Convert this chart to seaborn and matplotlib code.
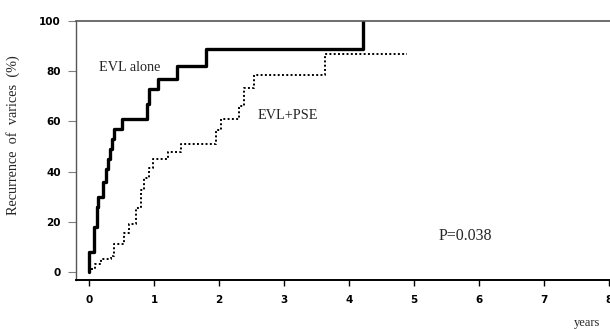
import matplotlib
matplotlib.use("Agg")
import matplotlib.pyplot as plt
import pandas as pd
import seaborn as sns

# Cumulative recurrence of varices (%), step curves
evl_years = [0.0, 0.0, 0.07, 0.12, 0.13, 0.14, 0.21, 0.26, 0.29, 0.32, 0.36,
             0.39, 0.51, 0.89, 0.93, 1.06, 1.35, 1.80, 4.22]
evl_pct = [0, 8, 18, 22, 26, 30, 36, 41, 45, 49, 53,
           57, 61, 67, 73, 77, 82, 89, 100]

pse_years = [0.03, 0.10, 0.18, 0.34, 0.38, 0.54, 0.62, 0.72, 0.80, 0.85, 0.93,
             0.98, 1.21, 1.41, 1.95, 2.03, 2.31, 2.39, 2.54, 3.63, 4.90]
pse_pct = [1, 3, 5, 6.5, 11, 15.5, 19, 25.5, 32.5, 37.5, 41.5,
           45, 48, 51, 56.5, 61, 66, 73.5, 78.5, 87, 87]

x_ticks = [0, 1, 2, 3, 4, 5, 6, 7, 8]
y_ticks = [0, 20, 40, 60, 80, 100]

evl = pd.DataFrame({"years": evl_years, "pct": evl_pct})
pse = pd.DataFrame({"years": pse_years, "pct": pse_pct})

sns.set_style("ticks")
plt.rcParams["font.family"] = ["Liberation Serif", "DejaVu Serif"]

fig = plt.figure(figsize=(6.1, 3.29), dpi=100)
ax = fig.add_axes([0.1246, 0.149, 0.8754, 0.787])

sns.lineplot(data=evl, x="years", y="pct", ax=ax, color="black", lw=2.4,
             drawstyle="steps-post", estimator=None, sort=False)
sns.lineplot(data=pse, x="years", y="pct", ax=ax, color="black", lw=1.4,
             linestyle=(0, (1, 1.2)), drawstyle="steps-post",
             estimator=None, sort=False)

ax.set_xlim(-0.2, 8.02)
ax.set_ylim(-3.2, 100)
ax.set_xticks(x_ticks)
ax.set_yticks(y_ticks)
ax.set_xticklabels([str(t) for t in x_ticks], fontfamily="DejaVu Sans",
                   fontweight="bold", fontsize=7.5)
ax.set_yticklabels([str(t) for t in y_ticks], fontfamily="DejaVu Sans",
                   fontweight="bold", fontsize=7.5)
ax.tick_params(axis="x", direction="out", length=4, width=1, pad=7, colors="black")
ax.tick_params(axis="y", direction="out", length=6, width=0.8, pad=5,
               color="gray", labelcolor="black")

ax.spines["right"].set_visible(False)
ax.spines["top"].set_color("#555555")
ax.spines["top"].set_linewidth(1.2)
ax.spines["left"].set_color("#555555")
ax.spines["left"].set_linewidth(1.0)
ax.spines["bottom"].set_color("black")
ax.spines["bottom"].set_linewidth(1.4)

ax.set_xlabel("")
ax.set_ylabel("Recurrence  of  varices  (%)", fontsize=10.3, labelpad=12)
ax.yaxis.set_label_coords(-0.105, 0.56)
fig.text(0.962, 0.0, "years", fontsize=9, ha="center", va="bottom")

ax.text(0.15, 81.5, "EVL alone", fontsize=10.3, ha="left", va="center")
ax.text(2.6, 62.5, "EVL+PSE", fontsize=10.3, ha="left", va="center")
ax.text(5.38, 14.3, "P=0.038", fontsize=11.5, ha="left", va="center")

fig.savefig("out.png", dpi=100)
